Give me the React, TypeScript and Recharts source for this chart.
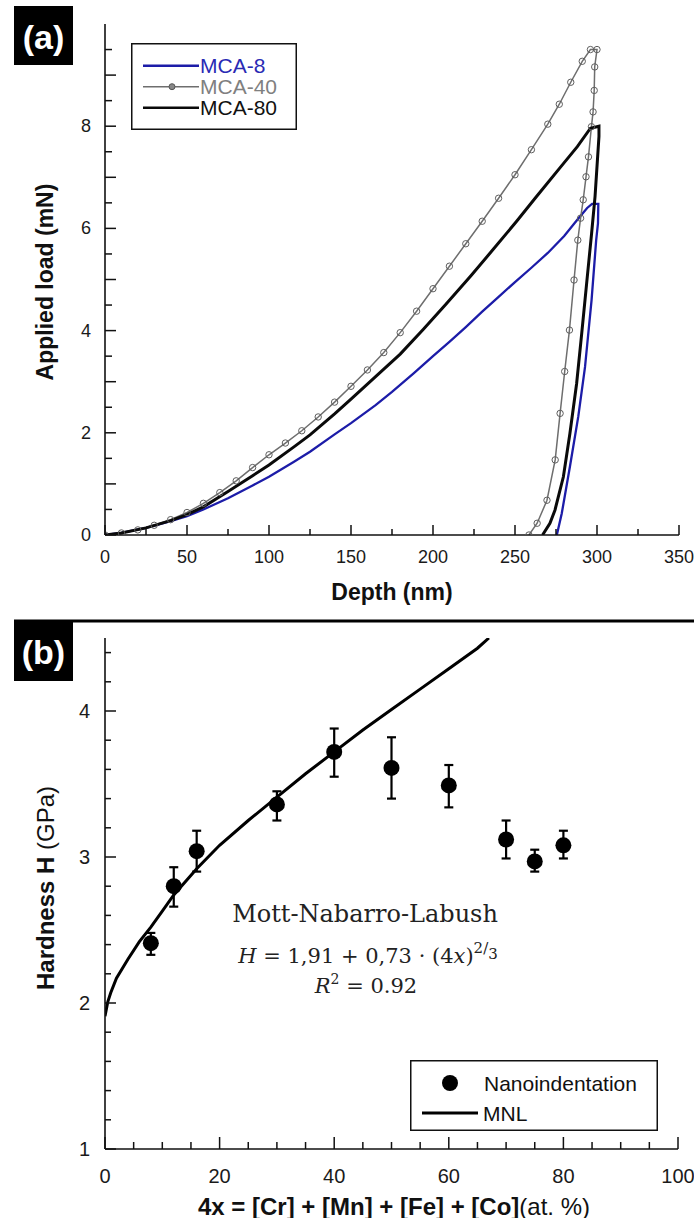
import React from 'react';
import { LineChart, Line, XAxis, YAxis, Legend, ComposedChart, Scatter, ErrorBar } from 'recharts';

// ---------- Panel (a): load–depth curves ----------
const depthTicks = [0, 25, 50, 75, 100, 125, 150, 175, 200, 225, 250, 275, 300, 325, 350];
const loadTicks = [0, 0.5, 1, 1.5, 2, 2.5, 3, 3.5, 4, 4.5, 5, 5.5, 6, 6.5, 7, 7.5, 8, 8.5, 9, 9.5];

const seriesNames = ['MCA-8', 'MCA-40', 'MCA-80'];
const seriesColors = ['#1c1ca8', '#6e6e6e', '#0a0a0a'];
const legendTextColors = ['#2a2ab4', '#808080', '#111111'];

const mca8Depth = [0, 10, 25, 40, 50, 60, 75, 90, 100, 115, 125, 140, 150, 165, 175, 188, 200, 210, 220, 230, 240, 250, 260, 270, 280, 288, 294, 297, 300.8,
  300.6, 299.5, 296.7, 292.7, 288.6, 283.5, 278.5, 275.5];
const mca8Load = [0, 0.04, 0.14, 0.27, 0.37, 0.5, 0.72, 0.97, 1.14, 1.43, 1.63, 1.97, 2.19, 2.54, 2.8, 3.16, 3.5, 3.78, 4.07, 4.37, 4.66, 4.95, 5.23, 5.52, 5.85, 6.17, 6.4, 6.48, 6.48,
  6.1, 5.77, 4.6, 3.29, 2.32, 1.34, 0.42, 0];

const mca40Depth = [0, 10, 20, 30, 40, 50, 60, 70, 80, 90, 100, 110, 120, 130, 140, 150, 160, 170, 180, 190, 200, 210, 220, 230, 240, 250, 260, 270, 277, 284, 291, 296, 300,
  298.6, 298.3, 297.6, 296.6, 294.8, 293.3, 291.6, 290.0, 288.3, 286.0, 283.2, 280.3, 277.5, 274.5, 269.5, 263.5, 258.5];
const mca40Load = [0, 0.04, 0.1, 0.19, 0.3, 0.44, 0.62, 0.83, 1.06, 1.32, 1.57, 1.8, 2.04, 2.31, 2.6, 2.91, 3.23, 3.57, 3.96, 4.38, 4.82, 5.26, 5.7, 6.14, 6.59, 7.05, 7.54, 8.04, 8.43, 8.86, 9.27, 9.5, 9.5,
  9.16, 8.7, 8.28, 7.99, 7.4, 7.01, 6.56, 6.2, 5.77, 4.99, 4.01, 3.2, 2.38, 1.47, 0.68, 0.23, 0];

const mca80Depth = [0, 10, 25, 40, 50, 60, 75, 90, 100, 115, 125, 140, 150, 165, 180, 194, 208, 223, 237, 251, 263, 277, 288, 296, 301.2,
  301.2, 298.8, 296.7, 293.7, 290.7, 287.6, 283.5, 279.5, 274.4, 271.3, 266.8];
const mca80Load = [0, 0.04, 0.14, 0.28, 0.4, 0.55, 0.85, 1.16, 1.37, 1.72, 1.96, 2.37, 2.66, 3.1, 3.54, 4.02, 4.52, 5.07, 5.6, 6.14, 6.62, 7.17, 7.6, 7.96, 8.0,
  7.8, 6.62, 5.9, 4.93, 3.95, 2.97, 1.99, 1.14, 0.49, 0.23, 0];

// ---------- Panel (b): hardness vs composition ----------
const compTicks = [0, 5, 10, 15, 20, 25, 30, 35, 40, 45, 50, 55, 60, 65, 70, 75, 80, 85, 90, 95, 100];
const hardTicks = [1, 1.2, 1.4, 1.6, 1.8, 2, 2.2, 2.4, 2.6, 2.8, 3, 3.2, 3.4, 3.6, 3.8, 4, 4.2, 4.4];

const compX = [8, 12, 16, 30, 40, 50, 60, 70, 75, 80];
const hardness = [2.41, 2.8, 3.04, 3.36, 3.72, 3.61, 3.49, 3.12, 2.97, 3.08];
const hardLow = [2.33, 2.66, 2.9, 3.25, 3.55, 3.4, 3.34, 2.99, 2.9, 2.99];
const hardHigh = [2.48, 2.93, 3.18, 3.45, 3.88, 3.82, 3.63, 3.25, 3.05, 3.18];

const mnlX = [0, 0.5, 1, 2, 4, 6, 8, 10, 12, 16, 20, 25, 30, 35, 40, 45, 50, 55, 60, 65, 67];
const mnlH = [1.91, 2.01, 2.07, 2.17, 2.3, 2.42, 2.52, 2.63, 2.74, 2.92, 3.08, 3.25, 3.41, 3.57, 3.72, 3.87, 4.01, 4.15, 4.29, 4.43, 4.5];

// ---------- built tables ----------
const toPts = (d: number[], l: number[]) => d.map((v, i) => ({ d: v, load: l[i] }));
const curveA = [toPts(mca8Depth, mca8Load), toPts(mca40Depth, mca40Load), toPts(mca80Depth, mca80Load)];
const pointsB = compX.map((x, i) => ({ x, y: hardness[i], err: [hardness[i] - hardLow[i], hardHigh[i] - hardness[i]] }));
const mnlData = mnlX.map((x, i) => ({ x, y: mnlH[i] }));

const AX = '#111';
const SANS = '"Liberation Sans", Arial, Helvetica, sans-serif';
const SERIF = '"DejaVu Serif", "Liberation Serif", serif';

type Cfg = { major: (v: number) => boolean; label: (v: number) => boolean; majorLen: number; minorLen: number; fs: number; gap: number };

const bottomTick = (c: Cfg) => (p: any) => {
  const { x, y, payload } = p;
  const v = payload.value;
  const len = c.major(v) ? c.majorLen : c.minorLen;
  return (
    <g>
      <line x1={x} y1={y} x2={x} y2={y - len} stroke={AX} strokeWidth={1.5} />
      {c.label(v) && (
        <text x={x} y={y + c.gap} textAnchor="middle" dominantBaseline="central" fontSize={c.fs} fontFamily={SANS} fill="#1a1a1a">{v}</text>
      )}
    </g>
  );
};
const topTick = (c: Cfg) => (p: any) => {
  const { x, y, payload } = p;
  const len = c.major(payload.value) ? c.majorLen : c.minorLen;
  return <line x1={x} y1={y} x2={x} y2={y + len} stroke={AX} strokeWidth={1.5} />;
};
const leftTick = (c: Cfg) => (p: any) => {
  const { x, y, payload } = p;
  const v = payload.value;
  const len = c.major(v) ? c.majorLen : c.minorLen;
  return (
    <g>
      <line x1={x} y1={y} x2={x + len} y2={y} stroke={AX} strokeWidth={1.5} />
      {c.label(v) && (
        <text x={x - c.gap} y={y} textAnchor="end" dominantBaseline="central" fontSize={c.fs} fontFamily={SANS} fill="#1a1a1a">{v}</text>
      )}
    </g>
  );
};
const rightTick = (c: Cfg) => (p: any) => {
  const { x, y, payload } = p;
  const len = c.major(payload.value) ? c.majorLen : c.minorLen;
  return <line x1={x} y1={y} x2={x - len} y2={y} stroke={AX} strokeWidth={1.5} />;
};

const isInt = (v: number) => Math.abs(v - Math.round(v)) < 1e-6;
const cfgAx: Cfg = { major: (v) => v % 50 === 0, label: (v) => v % 50 === 0, majorLen: 10, minorLen: 6, fs: 18, gap: 22 };
const cfgAy: Cfg = { major: isInt, label: (v) => isInt(v) && Math.round(v) % 2 === 0, majorLen: 11, minorLen: 7, fs: 18, gap: 14 };
const cfgBx: Cfg = { major: (v) => v % 20 === 0, label: (v) => v % 20 === 0, majorLen: 12, minorLen: 7, fs: 20, gap: 27 };
const cfgBy: Cfg = { major: isInt, label: isInt, majorLen: 11, minorLen: 6, fs: 20, gap: 15 };

const axisLine = { stroke: AX, strokeWidth: 1.6 };

const LegendA = () => (
  <svg width={166} height={87}>
    <rect x={0.75} y={0.75} width={164.5} height={85.5} fill="#fff" stroke={AX} strokeWidth={1.5} />
    {seriesNames.map((n, i) => {
      const cy = 22.7 + i * 21;
      return (
        <g key={n}>
          <line x1={12} y1={cy} x2={68} y2={cy} stroke={seriesColors[i]} strokeWidth={i === 1 ? 1.5 : 2.6} />
          {i === 1 && <circle cx={41} cy={cy} r={3} fill="#888" stroke="#555" strokeWidth={1} />}
          <text x={69} y={cy} dominantBaseline="central" fontSize={21} fontFamily={SANS} fill={legendTextColors[i]}>{n}</text>
        </g>
      );
    })}
  </svg>
);

const LegendB = () => (
  <svg width={248} height={71}>
    <rect x={0.75} y={0.75} width={246.5} height={69.5} fill="#fff" stroke={AX} strokeWidth={1.5} />
    <circle cx={40} cy={23} r={8} fill="#000" />
    <text x={74} y={23} dominantBaseline="central" fontSize={21} fontFamily={SANS} fill="#111">Nanoindentation</text>
    <line x1={12} y1={53} x2={68} y2={53} stroke="#000" strokeWidth={3} />
    <text x={73} y={53} dominantBaseline="central" fontSize={21} fontFamily={SANS} fill="#111">MNL</text>
  </svg>
);

const dotShape = (p: any) => <circle cx={p.cx} cy={p.cy} r={8} fill="#000" />;

export default function App() {
  return (
    <div style={{ position: 'absolute', left: 0, top: 0, width: 694, height: 1218, background: '#fff', overflow: 'hidden' }}>
      <div style={{ position: 'absolute', left: 0, top: 0 }}>
        <LineChart width={694} height={610} margin={{ top: 24, right: 15, bottom: 45, left: 45 }}>
          <XAxis dataKey="d" type="number" domain={[0, 350]} ticks={depthTicks} interval={0} allowDataOverflow
            height={30} tickSize={0} tickMargin={0} tick={bottomTick(cfgAx)} axisLine={axisLine} />
          <XAxis xAxisId="top" orientation="top" dataKey="d" type="number" domain={[0, 350]} ticks={depthTicks} interval={0} allowDataOverflow
            height={0} tickSize={0} tickMargin={0} tick={topTick(cfgAx)} axisLine={axisLine} />
          <YAxis type="number" domain={[0, 10]} ticks={loadTicks} interval={0} allowDataOverflow
            width={60} tickSize={0} tickMargin={0} tick={leftTick(cfgAy)} axisLine={axisLine} />
          <YAxis yAxisId="right" orientation="right" type="number" domain={[0, 10]} ticks={loadTicks} interval={0} allowDataOverflow
            width={0} tickSize={0} tickMargin={0} tick={rightTick(cfgAy)} axisLine={axisLine} />
          <Line name={seriesNames[0]} data={curveA[0]} dataKey="load" type="linear" stroke={seriesColors[0]} strokeWidth={2.3} dot={false} isAnimationActive={false} />
          <Line name={seriesNames[1]} data={curveA[1]} dataKey="load" type="linear" stroke={seriesColors[1]} strokeWidth={1.5}
            dot={{ r: 3.2, stroke: '#5e5e5e', strokeWidth: 1, fill: 'none' }} isAnimationActive={false} />
          <Line name={seriesNames[2]} data={curveA[2]} dataKey="load" type="linear" stroke={seriesColors[2]} strokeWidth={3} dot={false} isAnimationActive={false} />
          <Legend layout="vertical" align="center" verticalAlign="middle"
            wrapperStyle={{ left: 131, top: 43, width: 166, height: 87 }} content={() => <LegendA />} />
        </LineChart>
      </div>

      <div style={{ position: 'absolute', left: 0, top: 620 }}>
        <ComposedChart width={694} height={598} margin={{ top: 18, right: 16, bottom: 39, left: 45 }}>
          <XAxis dataKey="x" type="number" domain={[0, 100]} ticks={compTicks} interval={0} allowDataOverflow
            height={30} tickSize={0} tickMargin={0} tick={bottomTick(cfgBx)} axisLine={axisLine} />
          <XAxis xAxisId="top" orientation="top" dataKey="x" type="number" domain={[0, 100]} ticks={compTicks} interval={0} allowDataOverflow
            height={0} tickSize={0} tickMargin={0} tick={topTick(cfgBx)} axisLine={axisLine} />
          <YAxis type="number" domain={[1, 4.5]} ticks={hardTicks} interval={0} allowDataOverflow
            width={60} tickSize={0} tickMargin={0} tick={leftTick(cfgBy)} axisLine={axisLine} />
          <YAxis yAxisId="right" orientation="right" type="number" domain={[1, 4.5]} ticks={hardTicks} interval={0} allowDataOverflow
            width={0} tickSize={0} tickMargin={0} tick={rightTick(cfgBy)} axisLine={axisLine} />
          <Line name="MNL" data={mnlData} dataKey="y" type="linear" stroke="#000" strokeWidth={3} dot={false} isAnimationActive={false} />
          <Scatter name="Nanoindentation" data={pointsB} dataKey="y" fill="#000" shape={dotShape} isAnimationActive={false}>
            <ErrorBar dataKey="err" direction="y" width={4.5} stroke="#000" strokeWidth={2.2} />
          </Scatter>
          <Legend layout="vertical" align="center" verticalAlign="middle"
            wrapperStyle={{ left: 410, top: 440, width: 248, height: 71 }} content={() => <LegendB />} />
        </ComposedChart>
      </div>

      <svg width={694} height={1218} style={{ position: 'absolute', left: 0, top: 0, pointerEvents: 'none' }}>
        {/* panel tags */}
        <rect x={14} y={6} width={59} height={59} fill="#000" />
        <text x={43.5} y={37} textAnchor="middle" dominantBaseline="central" fontSize={34} fontWeight="bold" fontFamily={SANS} fill="#fff">(a)</text>
        <line x1={14} y1={621} x2={694} y2={621} stroke="#000" strokeWidth={3} />
        <rect x={14} y={621} width={59} height={60} fill="#000" />
        <text x={43.5} y={652} textAnchor="middle" dominantBaseline="central" fontSize={34} fontWeight="bold" fontFamily={SANS} fill="#fff">(b)</text>

        {/* axis titles (a) */}
        <text transform="translate(45,282) rotate(-90)" textAnchor="middle" dominantBaseline="central" fontSize={23} fontWeight="bold" fontFamily={SANS} fill="#111">Applied load (mN)</text>
        <text x={392} y={592} textAnchor="middle" dominantBaseline="central" fontSize={23} fontWeight="bold" fontFamily={SANS} fill="#111">Depth (nm)</text>

        {/* axis titles (b) */}
        <text transform="translate(45,888) rotate(-90)" textAnchor="middle" dominantBaseline="central" fontSize={24} fontFamily={SANS} fill="#111">
          <tspan fontWeight="bold">Hardness H </tspan><tspan>(GPa)</tspan>
        </text>
        <text x={394} y={1206} textAnchor="middle" dominantBaseline="central" fontSize={24} fontFamily={SANS} fill="#111">
          <tspan fontWeight="bold">4x = [Cr] + [Mn] + [Fe] + [Co]</tspan><tspan>(at. %)</tspan>
        </text>

        {/* annotation */}
        <text x={365} y={922} textAnchor="middle" fontSize={24} fontFamily={SERIF} fill="#222">Mott-Nabarro-Labush</text>
        <text x={368} y={963} textAnchor="middle" fontSize={21} fontFamily={SERIF} fill="#222">
          <tspan fontStyle="italic">H</tspan><tspan> = 1,91 + 0,73 · (4</tspan><tspan fontStyle="italic">x</tspan><tspan>)</tspan>
          <tspan dy={-10} fontSize={15}>2</tspan><tspan fontSize={15}>/</tspan><tspan dy={6} fontSize={15}>3</tspan>
        </text>
        <text x={366} y={993} textAnchor="middle" fontSize={21} fontFamily={SERIF} fill="#222">
          <tspan fontStyle="italic">R</tspan><tspan dy={-9} fontSize={14}>2</tspan><tspan dy={9}> = 0.92</tspan>
        </text>
      </svg>
    </div>
  );
}
